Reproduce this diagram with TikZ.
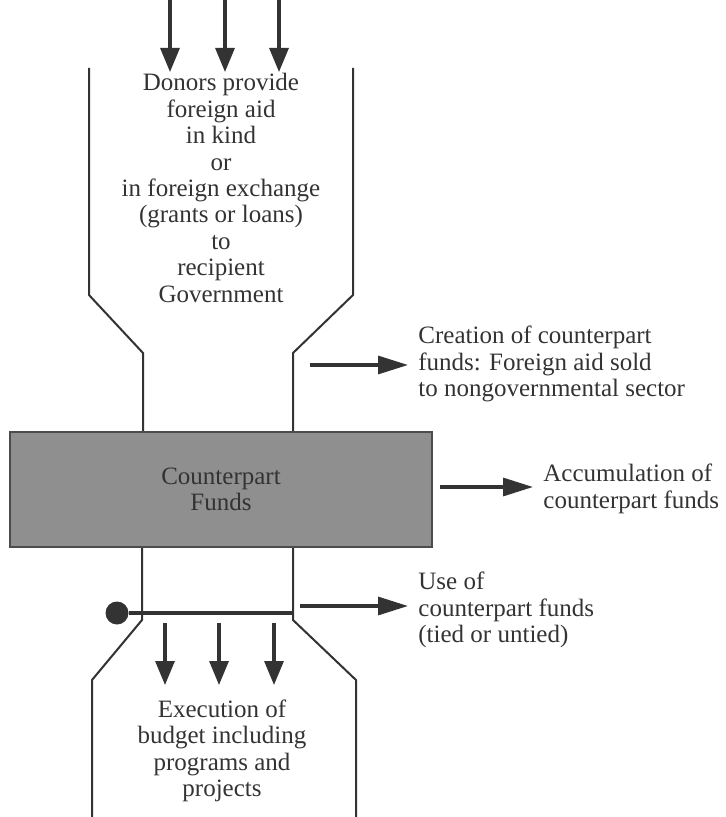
\documentclass[tikz,border=0pt]{standalone}
\usepackage{fontspec}
\setmainfont{Liberation Serif}
\usetikzlibrary{arrows.meta,positioning}
\definecolor{ink}{gray}{0.2}
\definecolor{fundgray}{gray}{0.56}

\begin{document}
\begin{tikzpicture}[x=0.5pt,y=-0.5pt,
  txt/.style={align=center,inner sep=0pt,text=ink,
    font=\fontsize{12.5}{13.2}\selectfont},
  side/.style={txt,align=left,anchor=west},
  wall/.style={draw=ink,line width=1pt},
  fundbox/.style={txt,draw=black!70,line width=1pt,fill=fundgray,
    minimum width=211pt,minimum height=57.5pt},
  feed/.style={-{Triangle[length=12pt,width=9.5pt]},line width=1.6pt,draw=ink},
  sideflow/.style={-{Triangle[length=15pt,width=9pt]},line width=1.6pt,
    draw=ink,shorten >=5pt},
  tapdot/.style={circle,fill=ink,inner sep=0pt,minimum size=11.5pt}
]
  \useasboundingbox (0,0) rectangle (725,817);

  % funnel walls
  \draw[wall] (89,68) -- (89,295) -- (143,353) -- (143,432);
  \draw[wall] (353,68) -- (353,295) -- (293,353) -- (293,432);
  \draw[wall] (142,547) -- (142,620) -- (92,680) -- (92,817);
  \draw[wall] (293,547) -- (293,620) -- (356,680) -- (356,817);

  \node[txt] (donors) at (221,188) {Donors provide\\foreign aid\\in kind\\or\\
    in foreign exchange\\(grants or loans)\\to\\recipient\\Government};
  \node[fundbox] (funds) at (221,489.5) {Counterpart\\Funds};
  \node[txt] (budget) at (222,751) {Execution of\\budget including\\
    programs and\\projects};

  \node[side] (creation) at (418,364) {Creation of counterpart\\
    funds: Foreign aid sold\\to nongovernmental sector};
  \node[side] (accum) at (543,489) {Accumulation of\\counterpart funds};
  \node[side] (use) at (418,610) {Use of\\counterpart funds\\(tied or untied)};

  % aid coming in
  \foreach \x in {170,225,279}
    \draw[feed] (\x,0) -- (\x,72);

  % disbursement bar
  \node[tapdot] (tap) at (117,613) {};
  \coordinate (tapend) at (293,613);
  \draw[draw=ink,line width=1.6pt] (tap) -- (tapend);
  \foreach \x in {165,219,274}
    \draw[feed] (\x,623) -- (\x,685);

  % side flows
  \draw[sideflow] (310,365) -- (creation.west |- 310,365);
  \draw[sideflow] (440,487) -- (accum.west |- 440,487);
  \draw[sideflow] (300,606) -- (use.west |- 300,606);
\end{tikzpicture}
\end{document}
